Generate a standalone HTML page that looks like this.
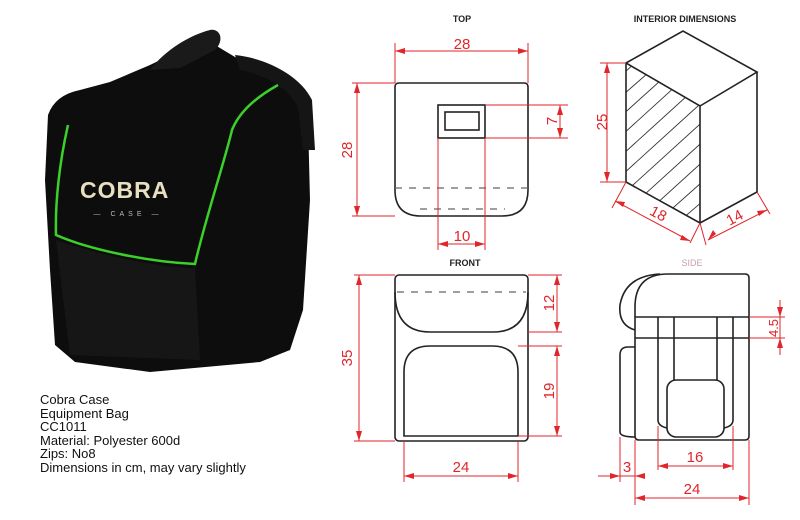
<!DOCTYPE html>
<html><head><meta charset="utf-8"><style>
body{margin:0;background:#fff;width:800px;height:520px;overflow:hidden}
svg{display:block}
.k{fill:none;stroke:#222;stroke-width:1.6}
.r{fill:none;stroke:#e0262a;stroke-width:1}
.d{fill:none;stroke:#666;stroke-width:1.2;stroke-dasharray:7 7}
.t{font-family:"Liberation Sans",sans-serif;font-size:9px;font-weight:bold;fill:#222;text-anchor:middle}
.n{font-family:"Liberation Sans",sans-serif;font-size:15px;fill:#e0262a;text-anchor:middle}
.a{fill:#e0262a}
.p{font-family:"Liberation Sans",sans-serif;font-size:13px;fill:#111}
</style></head><body>
<svg width="800" height="520" viewBox="0 0 800 520">
<!-- bag -->
<path d="M48,115 Q55,95 80,90 L110,82 L150,65 L185,48 L215,45 L240,60 L280,72 L300,88 L308,120 L310,200 L303,310 L290,350 L260,362 L150,372 L75,362 L55,345 L50,270 L45,180 Z" fill="#0d0d0d"/>
<path d="M150,70 C165,50 190,35 210,30 C220,28 225,40 215,50 L180,68 Z" fill="#1a1a1a"/>
<path d="M235,55 C265,58 300,75 312,100 L315,150 L303,150 L298,108 C290,88 262,74 240,70 Z" fill="#151515"/>
<path d="M68,125 C60,160 55,200 56,235 C90,250 150,262 195,264 C205,220 225,160 232,130 C240,110 260,95 278,85" fill="none" stroke="#3bd12a" stroke-width="2.5"/>
<path d="M56,240 C100,255 160,268 195,268 L200,360 L70,355 Z" fill="#161616"/>
<text x="80" y="198" font-family="Liberation Sans,sans-serif" font-weight="bold" font-size="23" fill="#e8dfc0" letter-spacing="1">COBRA</text>
<text x="128" y="216" font-family="Liberation Sans,sans-serif" font-size="7" fill="#bbb" text-anchor="middle" letter-spacing="4">— CASE —</text>
<!-- text -->
<text class="p" x="40" y="404">Cobra Case</text>
<text class="p" x="40" y="418">Equipment Bag</text>
<text class="p" x="40" y="431">CC1011</text>
<text class="p" x="40" y="445">Material: Polyester 600d</text>
<text class="p" x="40" y="458">Zips: No8</text>
<text class="p" x="40" y="472">Dimensions in cm, may vary slightly</text>

<!-- TOP -->
<text class="t" x="462" y="22">TOP</text>
<path class="k" d="M399,83 L524,83 Q528,83 528,87 L528,190 Q528,216 502,216 L421,216 Q395,216 395,190 L395,87 Q395,83 399,83 Z"/>
<rect class="k" x="438" y="105" width="47" height="33"/>
<rect class="k" x="445" y="112" width="34" height="18"/>
<line class="d" x1="395" y1="188" x2="528" y2="188"/>
<line class="d" x1="420" y1="209" x2="505" y2="209"/>
<path class="r" d="M395,43V83M528,43V83M395,51H528M352,83H395M352,216H395M357,83V216M485,105H568M485,138H568M560,105V138M438,138V250M485,138V250M438,244H485"/>
<path class="a" d="M395,51l10,-3v6zM528,51l-10,-3v6zM357,83l-3,10h6zM357,216l-3,-10h6zM560,105l-3,10h6zM560,138l-3,-10h6zM438,244l10,-3v6zM485,244l-10,-3v6z"/>
<text class="n" x="462" y="49">28</text>
<text class="n" transform="translate(352,150) rotate(-90)">28</text>
<text class="n" transform="translate(552,121) rotate(-90)" x="0" y="5">7</text>
<text class="n" x="462" y="241">10</text>

<!-- INTERIOR -->
<text class="t" x="685" y="22">INTERIOR DIMENSIONS</text>
<clipPath id="hc"><polygon points="626,63 700,106 700,223 626,182"/></clipPath>
<g clip-path="url(#hc)" stroke="#333" stroke-width="0.9">
<path d="M600,95L660,40M600,115L680,45M600,135L700,45M600,155L710,55M600,175L710,75M600,195L710,95M600,215L710,115M600,235L710,135M600,255L710,155M620,255L710,175M640,255L710,195M660,255L710,215"/>
</g>
<path class="k" d="M626,63L683,31L757,72L700,106ZM626,63V182L700,223V106M700,223L757,192V72"/>
<path class="r" d="M600,63H626M600,182H626M607,63V182M626,182L612,208M700,223L690,243M700,223L706,245M757,192L770,214M615,201L690,241M708,240L767,210"/>
<path class="a" d="M607,63l-3,10h6zM607,182l-3,-10h6zM615,201l8,6l2,-5zM690,241l-8,-6l-2,5zM708,240l8,-6l-3,-4zM767,210l-8,6l-2,-5z"/>
<text class="n" transform="translate(602,122) rotate(-90)" y="5">25</text>
<text class="n" transform="translate(656,218) rotate(28)">18</text>
<text class="n" transform="translate(737,222) rotate(-28)">14</text>

<!-- FRONT -->
<text class="t" x="465" y="266">FRONT</text>
<rect class="k" x="395" y="275" width="133" height="166" rx="4"/>
<line class="d" x1="397" y1="292" x2="526" y2="292"/>
<path class="k" d="M395,292 Q395,332 430,332 L493,332 Q528,332 528,292"/>
<path class="k" d="M404,436 L404,372 Q404,346 430,346 L492,346 Q518,346 518,372 L518,436 Z"/>
<path class="r" d="M354,275H395M354,441H395M359,275V441M528,275H562M528,332H562M557,275V332M518,346H562M518,436H562M557,346V436M404,441V482M518,441V482M404,476H518"/>
<path class="a" d="M359,275l-3,10h6zM359,441l-3,-10h6zM557,275l-3,10h6zM557,332l-3,-10h6zM557,346l-3,10h6zM557,436l-3,-10h6zM404,476l10,-3v6zM518,476l-10,-3v6z"/>
<text class="n" transform="translate(352,358) rotate(-90)" y="0">35</text>
<text class="n" transform="translate(554,303) rotate(-90)">12</text>
<text class="n" transform="translate(554,391) rotate(-90)">19</text>
<text class="n" x="461" y="472">24</text>

<!-- SIDE -->
<text class="t" x="692" y="266" style="fill:#c9a0a8;font-weight:normal">SIDE</text>
<path class="k" d="M668,274 L745,274 Q749,274 749,278 L749,436 Q749,440 745,440 L639,440 Q635,440 635,436 L635,307 Q635,274 668,274 Z"/>
<path class="k" d="M660,274 Q625,276 620,305 Q618,325 635,330"/>
<path class="k" d="M635,347 L628,347 Q620,347 620,355 L620,432 Q620,437 635,437"/>
<path class="k" d="M635,317H749M635,338H749"/>
<path class="k" d="M658,317V420Q658,426 667,428M674,317V380M717,317V380M733,317V420Q733,426 724,428"/>
<rect class="k" x="667" y="380" width="57" height="57" rx="9"/>
<path class="r" d="M749,317H785M749,338H785M780,300V355M620,437V482M635,440V505M658,426V470M733,426V470M749,440V505M598,476H645M658,466H733M635,498H749"/>
<path class="a" d="M780,317l-3,-10h6zM780,338l-3,10h6zM620,476l-10,-3v6zM635,476l10,-3v6zM658,466l10,-3v6zM733,466l-10,-3v6zM635,498l10,-3v6zM749,498l-10,-3v6z"/>
<text class="n" transform="translate(778,328) rotate(-90)" y="0" style="font-size:13px">4.5</text>
<text class="n" x="627" y="472">3</text>
<text class="n" x="695" y="462">16</text>
<text class="n" x="692" y="494">24</text>
</svg>
</body></html>
